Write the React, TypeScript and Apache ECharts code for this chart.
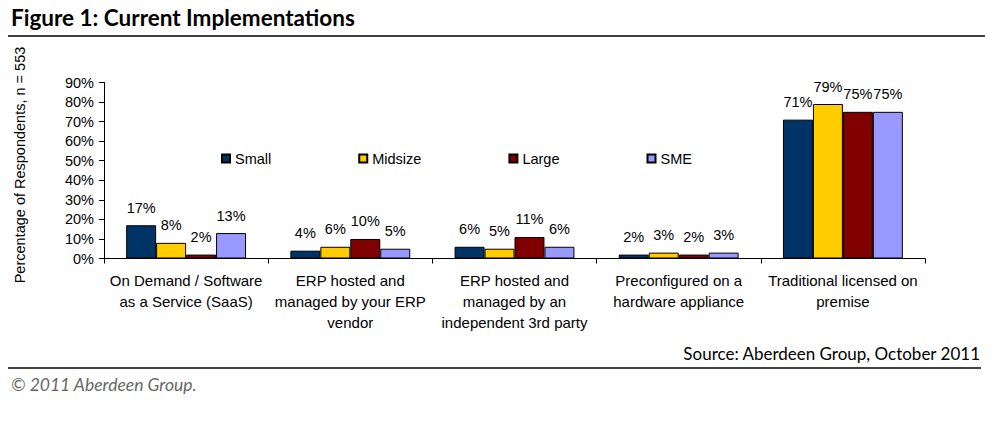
import React, { useEffect, useRef } from "react";
import * as echarts from "echarts";

const categories = [
  "On Demand / Software\nas a Service (SaaS)",
  "ERP hosted and\nmanaged by your ERP\nvendor",
  "ERP hosted and\nmanaged by an\nindependent 3rd party",
  "Preconfigured on a\nhardware appliance",
  "Traditional licensed on\npremise",
];
const seriesNames = ["Small", "Midsize", "Large", "SME"];
const small = [17, 4, 6, 2, 71];
const midsize = [8, 6, 5, 3, 79];
const large = [2, 10, 11, 2, 75];
const sme = [13, 5, 6, 3, 75];
const colors = ["#003366", "#FFCC00", "#800000", "#9999FF"];

const titleText = "Figure 1: Current Implementations";
const yAxisTitle = "Percentage of Respondents, n = 553";
const sourceText = "Source: Aberdeen Group, October 2011";
const copyrightText = "© 2011 Aberdeen Group.";

export default function App() {
  const ref = useRef<HTMLDivElement>(null);
  useEffect(() => {
    if (!ref.current) return;
    const chart = echarts.init(ref.current, null, { renderer: "svg" });
    const values = [small, midsize, large, sme];
    const font = "Arial, 'Liberation Sans', sans-serif";
    chart.setOption({
      animation: false,
      backgroundColor: "#ffffff",
      textStyle: { fontFamily: font },
      grid: { left: 104, right: 72, top: 82.5, bottom: 177.5 },
      legend: {
        left: 216,
        top: 146,
        icon: "rect",
        itemWidth: 8,
        itemHeight: 8,
        itemGap: 87,
        textStyle: { fontSize: 14.5, color: "#000", fontFamily: font },
        data: seriesNames,
      },
      xAxis: {
        type: "category",
        data: categories,
        axisLine: { lineStyle: { color: "#000", width: 1 } },
        axisTick: { show: true, length: 5, lineStyle: { color: "#000" } },
        axisLabel: {
          interval: 0,
          fontSize: 15,
          lineHeight: 21,
          color: "#000",
          margin: 11,
          fontFamily: font,
        },
      },
      yAxis: {
        type: "value",
        min: 0,
        max: 90,
        interval: 10,
        splitLine: { show: false },
        axisLine: { show: true, lineStyle: { color: "#000", width: 1 } },
        axisTick: { show: true, length: 5, lineStyle: { color: "#000" } },
        axisLabel: {
          formatter: "{value}%",
          fontSize: 14.5,
          color: "#000",
          margin: 10,
          fontFamily: font,
        },
      },
      series: seriesNames.map((name, i) => ({
        name,
        type: "bar",
        data: values[i],
        barGap: "0%",
        barCategoryGap: "27%",
        itemStyle: { color: colors[i], borderColor: "#000", borderWidth: 1 },
        label: {
          show: true,
          position: "top",
          distance: 10,
          formatter: "{c}%",
          fontSize: 14.5,
          color: "#000",
          fontFamily: font,
        },
      })),
      graphic: [
        {
          type: "text",
          x: 11,
          y: 17,
          style: {
            text: titleText,
            font: "bold 22.5px Lato, 'Open Sans', sans-serif",
            fill: "#000",
            align: "left",
            verticalAlign: "middle",
          },
        },
        {
          type: "line",
          shape: { x1: 8, y1: 36, x2: 985, y2: 36 },
          style: { stroke: "#000", lineWidth: 1.5 },
        },
        {
          type: "text",
          x: 20,
          y: 165,
          rotation: Math.PI / 2,
          style: {
            text: yAxisTitle,
            font: "14.5px Arial, 'Liberation Sans', sans-serif",
            fill: "#000",
            align: "center",
            verticalAlign: "middle",
          },
        },
        {
          type: "text",
          x: 980,
          y: 353,
          style: {
            text: sourceText,
            font: "17px Lato, 'Open Sans', sans-serif",
            fill: "#000",
            align: "right",
            verticalAlign: "middle",
          },
        },
        {
          type: "line",
          shape: { x1: 8, y1: 368, x2: 981, y2: 368 },
          style: { stroke: "#000", lineWidth: 1.5 },
        },
        {
          type: "text",
          x: 11,
          y: 384,
          style: {
            text: copyrightText,
            font: "italic 17.5px Lato, 'Open Sans', sans-serif",
            fill: "#666",
            align: "left",
            verticalAlign: "middle",
          },
        },
      ],
    });
    return () => chart.dispose();
  }, []);
  return (
    <div
      ref={ref}
      style={{ position: "fixed", left: 0, top: 0, width: 997, height: 436 }}
    />
  );
}
